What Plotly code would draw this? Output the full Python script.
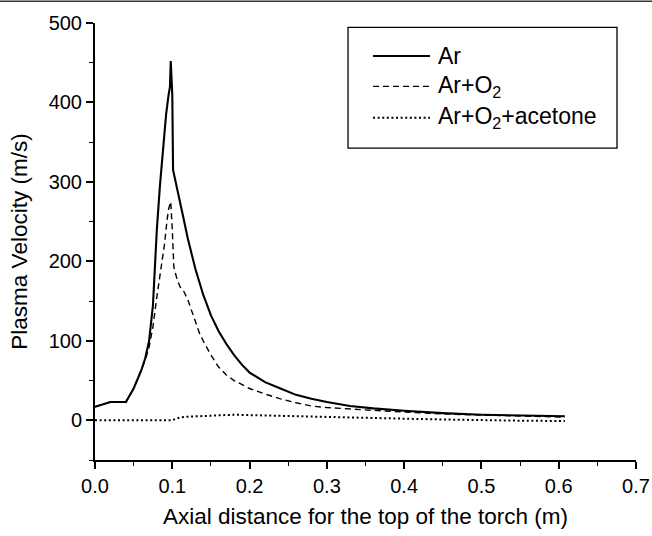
import plotly.graph_objects as go

# Axial positions (m) and plasma velocities (m/s) for each gas mixture
ar_x = [0.0, 0.01, 0.02, 0.03, 0.04, 0.05, 0.06, 0.065, 0.07, 0.075, 0.078, 0.08,
        0.084, 0.088, 0.092, 0.095, 0.097, 0.098, 0.099, 0.1, 0.101, 0.105, 0.11,
        0.115, 0.12, 0.13, 0.14, 0.15, 0.16, 0.17, 0.18, 0.19, 0.2, 0.22, 0.24,
        0.26, 0.28, 0.3, 0.33, 0.36, 0.4, 0.45, 0.5, 0.55, 0.608]
ar_v = [17, 20, 23, 23, 23, 40, 63, 78, 100, 145, 200, 240,
        295, 345, 385, 408, 420, 452, 415, 410, 315, 298, 275,
        252, 229, 190, 158, 132, 112, 96, 82, 70, 60, 48, 40,
        32, 27, 23, 18, 15, 12, 9, 7, 6, 5]

o2_x = [0.0, 0.01, 0.02, 0.03, 0.04, 0.05, 0.06, 0.065, 0.07, 0.075, 0.08, 0.085,
        0.09, 0.093, 0.095, 0.097, 0.098, 0.1, 0.102, 0.106, 0.11, 0.115, 0.12,
        0.125, 0.13, 0.135, 0.14, 0.15, 0.16, 0.17, 0.18, 0.19, 0.2, 0.22, 0.24,
        0.26, 0.28, 0.3, 0.33, 0.36, 0.4, 0.45, 0.5, 0.55, 0.608]
o2_v = [17, 20, 23, 23, 23, 40, 63, 76, 92, 118, 155, 190,
        222, 250, 265, 272, 275, 240, 193, 178, 168, 162, 152,
        138, 123, 110, 100, 82, 67, 57, 50, 45, 40, 33, 27,
        22, 18, 16, 14, 12.5, 10.5, 8, 6.5, 5, 4]

ace_x = [0.0, 0.02, 0.04, 0.06, 0.08, 0.1, 0.105, 0.11, 0.12, 0.14, 0.16, 0.18,
         0.2, 0.22, 0.25, 0.3, 0.35, 0.4, 0.45, 0.5, 0.55, 0.608]
ace_v = [0, 0, 0, 0, 0, 0, 2, 3.5, 4.5, 5.5, 6.5, 7,
         6.5, 6, 5, 4, 3, 2, 1, 0, -0.5, -1]

series_names = ["Ar", "Ar+O<sub>2</sub>", "Ar+O<sub>2</sub>+acetone"]
series_dash = ["solid", "6px,4px", "2px,2.6px"]
series_width = [2.1, 1.4, 2]

x_ticks = [0.0, 0.1, 0.2, 0.3, 0.4, 0.5, 0.6, 0.7]
y_ticks = [0, 100, 200, 300, 400, 500]

FONT = "Liberation Sans, Arial, sans-serif"

fig = go.Figure()
for xs, vs, name, dash, w in zip([ar_x, o2_x, ace_x], [ar_v, o2_v, ace_v],
                                 series_names, series_dash, series_width):
    fig.add_trace(go.Scatter(x=xs, y=vs, mode="lines", name=name,
                             line=dict(color="black", width=w, dash=dash),
                             showlegend=False))

# Boxed key in the upper right of the plot area
box = dict(x0=0.4677, x1=0.9649, y0=0.7135, y1=0.990)
fig.add_shape(type="rect", xref="paper", yref="paper", **box,
              line=dict(color="black", width=1.3), fillcolor="white", layer="above")
row_y = [0.9245, 0.855, 0.783]
for ry, name, dash, w in zip(row_y, series_names, series_dash, series_width):
    fig.add_shape(type="line", xref="paper", yref="paper",
                  x0=0.5139, x1=0.6192, y0=ry, y1=ry,
                  line=dict(color="black", width=w, dash=dash), layer="above")
    fig.add_annotation(xref="paper", yref="paper", x=0.630, y=ry,
                       xanchor="left", yanchor="middle", showarrow=False,
                       text=name, font=dict(family=FONT, size=23, color="black"))

# thin rule along the top edge of the page
fig.add_shape(type="line", xref="paper", yref="paper",
              x0=-0.176, x1=1.03, y0=1.050, y1=1.050,
              line=dict(color="#333333", width=1.5))

axis_common = dict(
    showline=True, linecolor="black", linewidth=2,
    ticks="outside", ticklen=7, tickwidth=1.6, tickcolor="black",
    showgrid=False, zeroline=False, mirror=False,
    tickfont=dict(family=FONT, size=20, color="black"),
)

fig.update_xaxes(
    range=[0, 0.7], tickvals=x_ticks, ticktext=[f"{v:.1f}" for v in x_ticks],
    minor=dict(ticks="outside", ticklen=4, tickwidth=1.4, tickcolor="black", dtick=0.05, tick0=0),
    title=dict(text="Axial distance for the top of the torch (m)",
               font=dict(family=FONT, size=22.5, color="black"), standoff=12),
    **axis_common,
)
fig.update_yaxes(
    range=[-50, 500], tickvals=y_ticks, ticktext=[str(v) for v in y_ticks],
    minor=dict(ticks="outside", ticklen=4, tickwidth=1.4, tickcolor="black", dtick=50, tick0=0),
    title=dict(text="Plasma Velocity (m/s)",
               font=dict(family=FONT, size=22.5, color="black"), standoff=15),
    **axis_common,
)

fig.update_layout(
    width=652, height=536,
    margin=dict(l=95, r=16, t=23, b=76, autoexpand=False),
    paper_bgcolor="white", plot_bgcolor="white",
    font=dict(family=FONT, color="black"),
)

fig.write_html("out.html")
